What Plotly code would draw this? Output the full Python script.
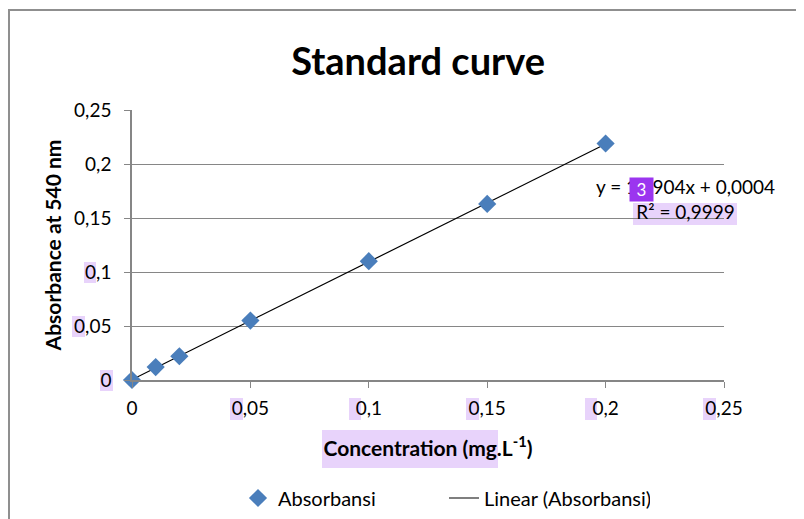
import plotly.graph_objects as go

# ---- data ----
concentration = [0, 0.01, 0.02, 0.05, 0.1, 0.15, 0.2]
absorbance = [0.0, 0.012, 0.022, 0.055, 0.110, 0.163, 0.219]
slope = 1.0904
intercept = 0.0004
fit_x = [0, 0.2]
tick_vals = [0, 0.05, 0.1, 0.15, 0.2, 0.25]
tick_text = ["0", "0,05", "0,1", "0,15", "0,2", "0,25"]

O = 8                      # page body margin
W, H = 804 - O, 519 - O    # figure size
L, R, T, B = 132, 724, 110, 380  # plot area in page pixels
FONT = "Lato"


def px(x):
    return (x - L) / (R - L)


def py(y):
    return (B - y) / (B - T)


fit_y = [slope * v + intercept for v in fit_x]

fig = go.Figure()
fig.add_trace(go.Scatter(
    x=fit_x, y=fit_y, mode="lines", name="Linear (Absorbansi)",
    line=dict(color="black", width=1.2), showlegend=True, legendrank=2,
))
fig.add_trace(go.Scatter(
    x=concentration, y=absorbance, mode="markers", name="Absorbansi",
    marker=dict(symbol="diamond", size=14, color="#4a7ebb"),
    cliponaxis=False, legendrank=1,
))

HL = "#e8d3fb"
highlights = [
    (84, 262, 96, 283), (72, 316, 85, 337), (100, 370, 113, 391),
    (230, 398, 243, 420), (349, 398, 361, 420), (466, 398, 479, 420),
    (585, 398, 597, 420), (703, 398, 716, 420),
    (322, 430, 498, 468), (633, 203, 737, 225),
]
shapes = []
for x0, y0, x1, y1 in highlights:
    shapes.append(dict(type="rect", xref="paper", yref="paper", layer="below",
                       x0=px(x0), x1=px(x1), y0=py(y1), y1=py(y0),
                       fillcolor=HL, line=dict(width=0)))
# outer chart frame
shapes.append(dict(type="path", xref="paper", yref="paper",
                   path=f"M {px(9)} {py(530)} L {px(9)} {py(10)} L {px(810)} {py(10)}",
                   line=dict(color="#8f8f8f", width=2)))

fig.update_layout(
    width=W, height=H,
    margin=dict(l=L - O, r=W - (R - O), t=T - O, b=H - (B - O)),
    paper_bgcolor="white", plot_bgcolor="white",
    font=dict(family=FONT, size=19, color="#000000"),
    title=dict(text="<b>Standard curve</b>", x=px(437), xanchor="center",
               y=1 - (62 - O) / H, yanchor="middle",
               font=dict(size=38, family=FONT, color="#000000")),
    xaxis=dict(range=[0, 0.25], tickvals=tick_vals, ticktext=tick_text,
               showgrid=False, showline=True, linecolor="#868686", linewidth=1.5,
               ticks="outside", ticklen=6, tickcolor="#868686", zeroline=False,
               ticklabelstandoff=4, tickfont=dict(size=19), automargin=False,
               title=dict(text="<b>Concentration (mg.L<sup>-1</sup>)</b>",
                          font=dict(size=21), standoff=24)),
    yaxis=dict(range=[0, 0.25], tickvals=tick_vals, ticktext=tick_text,
               showgrid=True, gridcolor="#868686", gridwidth=1,
               showline=True, linecolor="#868686", linewidth=1.5,
               ticks="outside", ticklen=6, tickcolor="#868686", zeroline=False,
               ticklabelstandoff=9, tickfont=dict(size=19), automargin=False,
               title=dict(text="<b>Absorbance at 540 nm</b>",
                          font=dict(size=21), standoff=7)),
    legend=dict(orientation="h", xref="container", yref="container",
                x=(238 - O) / W, xanchor="left", y=1 - (498 - O) / H,
                yanchor="middle", font=dict(size=20), entrywidth=161,
                bgcolor="rgba(0,0,0,0)", traceorder="normal"),
    shapes=shapes,
    annotations=[
        dict(xref="paper", yref="paper", x=px(685), y=py(199), showarrow=False,
             xanchor="center", yanchor="middle",
             text="y = 1,0904x + 0,0004<br>R² = 0,9999", align="center",
             font=dict(size=19, family=FONT)),
        dict(xref="paper", yref="paper", x=px(641.5), y=py(189), showarrow=False,
             xanchor="center", yanchor="middle", width=19, height=19,
             bgcolor="#9b35ef", borderpad=2,
             text="3", font=dict(size=17, color="white", family=FONT)),
    ],
)

fig.write_html("out.html")
